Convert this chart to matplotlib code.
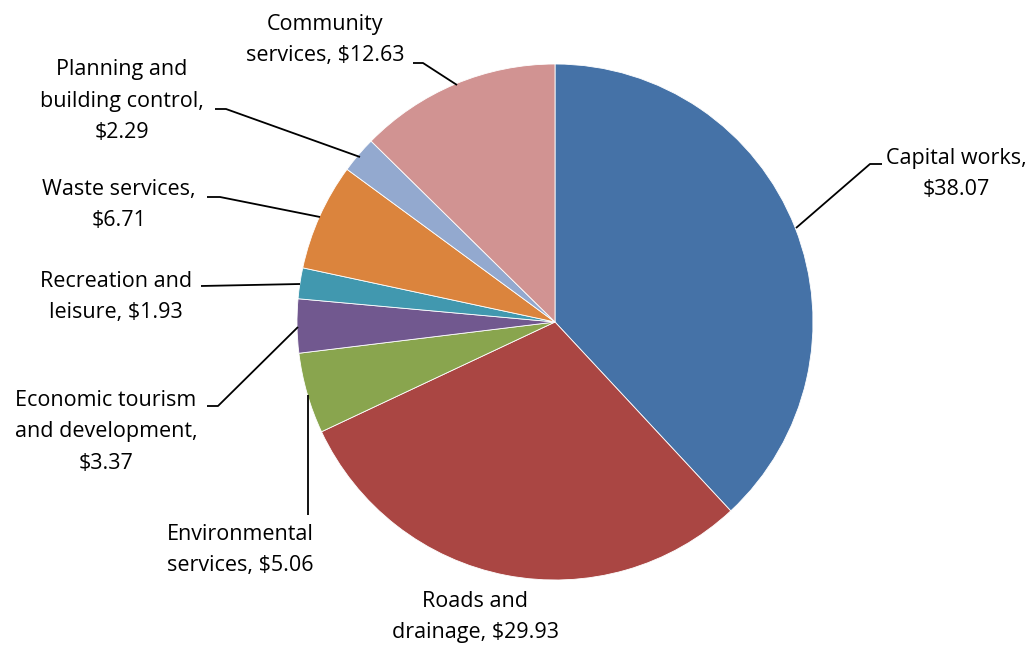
import matplotlib.pyplot as plt

# spending per $100 of rates
categories = ["Capital works", "Roads and drainage", "Environmental services",
              "Economic tourism and development", "Recreation and leisure",
              "Waste services", "Planning and building control", "Community services"]
values = [38.07, 29.93, 5.06, 3.37, 1.93, 6.71, 2.29, 12.63]
label_text = ["Capital works,\n$38.07", "Roads and\ndrainage, $29.93",
              "Environmental\nservices, $5.06", "Economic tourism\nand development,\n$3.37",
              "Recreation and\nleisure, $1.93", "Waste services,\n$6.71",
              "Planning and\nbuilding control,\n$2.29", "Community\nservices, $12.63"]
colors = ["#4572A7", "#AA4643", "#89A54E", "#71588F", "#4198AF", "#DB843D",
          "#93A9CF", "#D19392"]

W, H = 1032, 646
fig = plt.figure(figsize=(W / 100, H / 100), dpi=100)
ax = fig.add_axes([0, 0, 1, 1])

def py(y):
    # screen-style y (from top) to axes y
    return H - y

cx, cy, r = 555, 322, 258
ax.pie(values, colors=colors, startangle=90, counterclock=False,
       center=(cx, py(cy)), radius=r, frame=True,
       wedgeprops=dict(edgecolor="white", linewidth=0.6))
ax.set_xlim(0, W)
ax.set_ylim(0, H)
ax.set_aspect("equal")
ax.axis("off")

# label positions and leader lines
label_pos = [(956, 174), (475, 617), (240, 550), (106, 432),
             (116, 297), (119, 205), (122, 101), (325, 40)]
leaders = [
    [(796, 228), (870, 164), (882, 164)],
    None,
    [(308, 515), (308, 395)],
    [(207, 406), (218, 406), (298, 327)],
    [(201, 286), (300, 284)],
    [(207, 197), (220, 197), (320, 217)],
    [(215, 109), (226, 109), (360, 157)],
    [(413, 63), (423, 63), (457, 85)],
]

for txt, (x, y) in zip(label_text, label_pos):
    ax.text(x, py(y), txt, ha="center", va="center", multialignment="center",
            fontsize=15.5, family="Open Sans", color="#000000", linespacing=1.68)

for pts in leaders:
    if pts is None:
        continue
    xs = [p[0] for p in pts]
    ys = [py(p[1]) for p in pts]
    ax.plot(xs, ys, color="black", lw=1.3, solid_capstyle="butt")

fig.savefig("out.png", dpi=100)
